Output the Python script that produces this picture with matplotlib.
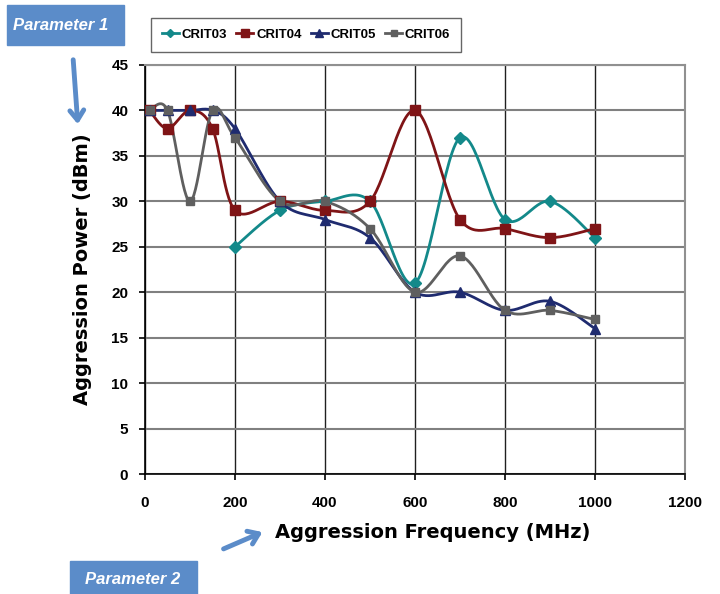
import numpy as np
import matplotlib
matplotlib.use("Agg")
import matplotlib.pyplot as plt
from matplotlib.patches import FancyArrowPatch, Rectangle

# data
freq03 = [200, 300, 400, 500, 600, 700, 800, 900, 1000]
crit03 = [25, 29, 30, 30, 21, 37, 28, 30, 26]

freq04 = [10, 50, 100, 150, 200, 300, 400, 500, 600, 700, 800, 900, 1000]
crit04 = [40, 38, 40, 38, 29, 30, 29, 30, 40, 28, 27, 26, 27]

freq05 = [10, 50, 100, 150, 200, 300, 400, 500, 600, 700, 800, 900, 1000]
crit05 = [40, 40, 40, 40, 38, 30, 28, 26, 20, 20, 18, 19, 16]

freq06 = [10, 50, 100, 150, 200, 300, 400, 500, 600, 700, 800, 900, 1000]
crit06 = [40, 40, 30, 40, 37, 30, 30, 27, 20, 24, 18, 18, 17]

names = ["CRIT03", "CRIT04", "CRIT05", "CRIT06"]
colors = ["#13898a", "#7f1416", "#1f2b6f", "#5f5f5f"]
markers = ["D", "s", "^", "s"]
msizes = [6, 7, 7, 5.5]


def smooth(x, y, n=30):
    # Excel-style smoothed line (Catmull-Rom through the points)
    x = np.asarray(x, float)
    y = np.asarray(y, float)
    px = np.concatenate([[x[0]], x, [x[-1]]])
    py = np.concatenate([[y[0]], y, [y[-1]]])
    xs, ys = [], []
    t = np.linspace(0, 1, n)
    for i in range(1, len(px) - 2):
        p0x, p1x, p2x, p3x = px[i - 1], px[i], px[i + 1], px[i + 2]
        p0y, p1y, p2y, p3y = py[i - 1], py[i], py[i + 1], py[i + 2]
        c1x, c1y = p1x + (p2x - p0x) / 6, p1y + (p2y - p0y) / 6
        c2x, c2y = p2x - (p3x - p1x) / 6, p2y - (p3y - p1y) / 6
        bx = (1 - t) ** 3 * p1x + 3 * (1 - t) ** 2 * t * c1x + 3 * (1 - t) * t ** 2 * c2x + t ** 3 * p2x
        by = (1 - t) ** 3 * p1y + 3 * (1 - t) ** 2 * t * c1y + 3 * (1 - t) * t ** 2 * c2y + t ** 3 * p2y
        xs.extend(bx)
        ys.extend(by)
    return xs, ys


plt.rcParams['font.family'] = ['Liberation Sans', 'DejaVu Sans']

fig = plt.figure(figsize=(7.2, 5.94), dpi=100)
ax = fig.add_axes([145 / 720, 1 - 474 / 594, 540 / 720, 409 / 594])

series = [(freq03, crit03), (freq04, crit04), (freq05, crit05), (freq06, crit06)]
handles = []
for (fx, fy), name, c, m, ms in zip(series, names, colors, markers, msizes):
    sx, sy = smooth(fx, fy)
    ax.plot(sx, sy, color=c, lw=2, zorder=3)
    ax.plot(fx, fy, ls="none", marker=m, ms=ms, color=c, zorder=4)
    h, = ax.plot([], [], color=c, lw=2, marker=m, ms=ms - 1.5, label=name)
    handles.append(h)

ax.set_xlim(0, 1200)
ax.set_ylim(0, 45)
ax.set_xticks(range(0, 1201, 200))
ax.set_yticks(range(0, 46, 5))
ax.yaxis.grid(True, color="#808080", lw=1.5)
ax.xaxis.grid(True, color="#202020", lw=1)
ax.set_axisbelow(True)
for s in ["top", "right"]:
    ax.spines[s].set_color("#909090")
    ax.spines[s].set_linewidth(1.5)
for s in ["left", "bottom"]:
    ax.spines[s].set_color("black")
    ax.spines[s].set_linewidth(1.2)
ax.tick_params(direction="out", length=4, labelsize=11, width=1.2)
ax.tick_params(axis="x", pad=12)
ax.tick_params(axis="y", pad=8)
for lab in ax.get_xticklabels() + ax.get_yticklabels():
    lab.set_fontweight("bold")

ax.set_ylabel("Aggression Power (dBm)", fontsize=14, fontweight="bold",
              family=["DejaVu Sans"], labelpad=14)
fig.text(275 / 720, 1 - 533 / 594, "Aggression Frequency (MHz)", fontsize=14,
         fontweight="bold", family=["DejaVu Sans"], va="center", ha="left")

leg = fig.legend(handles=handles, loc="center", ncol=4,
                 bbox_to_anchor=(306 / 720, 1 - 35 / 594), frameon=True,
                 fancybox=False, edgecolor="#404040",
                 handlelength=1.3, handletextpad=0.2, columnspacing=0.7,
                 borderpad=0.8, borderaxespad=0, fontsize=9.5)
for t in leg.get_texts():
    t.set_fontweight("bold")
leg.get_frame().set_linewidth(1)

# blue annotation boxes and arrows
box = "#5b8cc9"
fig.patches.append(Rectangle((7 / 720, 1 - 45 / 594), 117 / 720, 40 / 594,
                             transform=fig.transFigure, color=box))
fig.text(61 / 720, 1 - 25 / 594, "Parameter 1", color="white", fontsize=12,
         fontweight="bold", style="italic", family=["Liberation Sans"],
         ha="center", va="center")
fig.patches.append(Rectangle((70 / 720, 0), 127 / 720, 33 / 594,
                             transform=fig.transFigure, color=box))
fig.text(133 / 720, 1 - 580 / 594, "Parameter 2", color="white", fontsize=12,
         fontweight="bold", style="italic", family=["Liberation Sans"],
         ha="center", va="center")

a1 = FancyArrowPatch((73 / 720, 1 - 57 / 594), (78 / 720, 1 - 127 / 594),
                     transform=fig.transFigure, arrowstyle="->,head_length=7,head_width=5",
                     color=box, lw=3.5)
a2 = FancyArrowPatch((221 / 720, 1 - 550 / 594), (265 / 720, 1 - 531 / 594),
                     transform=fig.transFigure, arrowstyle="->,head_length=7,head_width=5",
                     color=box, lw=3.5)
fig.patches.extend([a1, a2])

fig.savefig("out.png", dpi=100)
